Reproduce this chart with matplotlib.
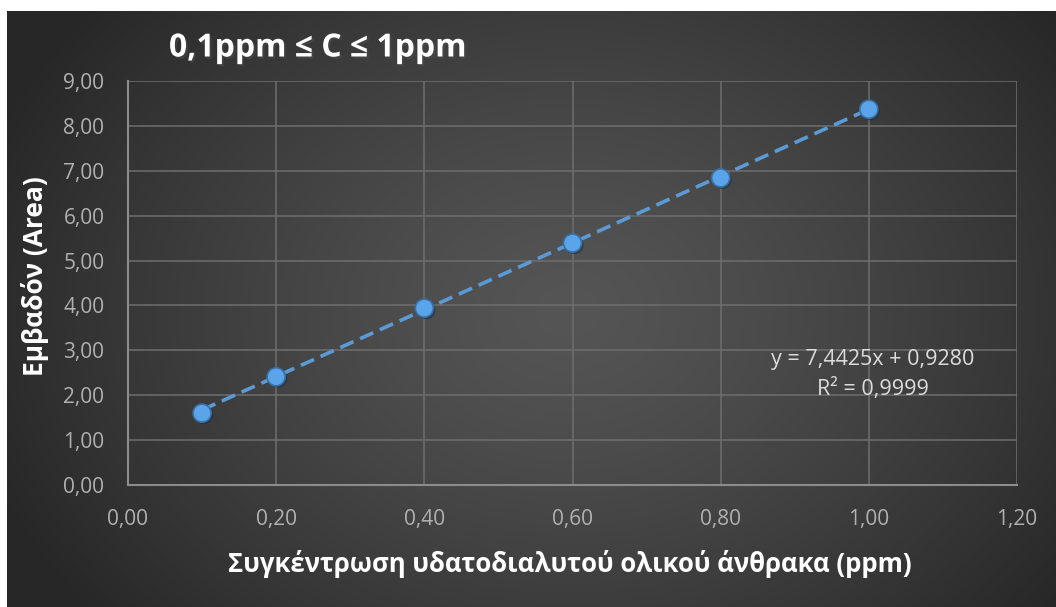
import numpy as np
import matplotlib.pyplot as plt
from matplotlib import patheffects as pe

plt.rcParams['font.family'] = ['Open Sans', 'DejaVu Sans']

# calibration data: concentration (ppm) vs peak area
conc = [0.1, 0.2, 0.4, 0.6, 0.8, 1.0]
area = [1.60, 2.41, 3.94, 5.39, 6.84, 8.37]
slope = 7.4425
intercept = 0.9280
r2 = 0.9999

x_ticks = [0.0, 0.2, 0.4, 0.6, 0.8, 1.0, 1.2]
y_ticks = [0, 1, 2, 3, 4, 5, 6, 7, 8, 9]

fig = plt.figure(figsize=(10.56, 6.07), dpi=100)
fig.patch.set_facecolor('white')

# dark radial background of the chart frame
bg = fig.add_axes([7 / 1056, 0, 1 - 7 / 1056, 1 - 11 / 607])
bg.set_axis_off()
h, w = 596, 1049
yy, xx = np.mgrid[0:h, 0:w]
r = np.sqrt(((xx - 560) / 620.0) ** 2 + ((yy - 300) / 480.0) ** 2)
shade = 0x55 - (0x55 - 0x27) * np.clip(r, 0, 1) ** 1.3
img = np.dstack([shade, shade, shade]) / 255.0
bg.imshow(img, aspect='auto', extent=[0, 1, 0, 1], origin='upper')
bg.set_xlim(0, 1)
bg.set_ylim(0, 1)

ax = fig.add_axes([128 / 1056, 1 - 485 / 607, (1017 - 128) / 1056, (485 - 81) / 607])
ax.set_facecolor('none')

ax.set_xlim(0, 1.2)
ax.set_ylim(0, 9)
ax.set_xticks(x_ticks)
ax.set_yticks(y_ticks)
ax.set_xticklabels([f'{v:.2f}'.replace('.', ',') for v in x_ticks])
ax.set_yticklabels([f'{v:.2f}'.replace('.', ',') for v in y_ticks])
ax.tick_params(length=0, colors='#b0b0b0', labelsize=15)
ax.tick_params(axis='x', pad=17)
ax.tick_params(axis='y', pad=17)

ax.grid(True, color='#6e6e6e', linewidth=1.1)
ax.set_axisbelow(True)
for side in ['top', 'right']:
    ax.spines[side].set_visible(False)
for side in ['left', 'bottom']:
    ax.spines[side].set_color('#8c8c8c')
    ax.spines[side].set_linewidth(1.5)

# linear trendline
tx = np.array([conc[0], conc[-1]])
ax.plot(tx, slope * tx + intercept, color='#5b9bd5', lw=2.6,
        dashes=(4, 2), zorder=3, clip_on=False)

ax.plot(conc, area, 'o', ms=13, color='#5aa5ea', mec='#3a6fa3', mew=1.2,
        zorder=4, clip_on=False,
        path_effects=[pe.SimplePatchShadow(offset=(1.5, -1.5), alpha=0.6), pe.Normal()])

ax.text(1.005, 2.8, f'y = {slope:.4f}x + {intercept:.4f}'.replace('.', ','),
        ha='center', va='center', color='#dcdcdc', fontsize=15.5)
ax.text(1.005, 2.13, f'R² = {r2:.4f}'.replace('.', ','),
        ha='center', va='center', color='#dcdcdc', fontsize=15.5)

shadow = [pe.withSimplePatchShadow(offset=(1.5, -1.5), alpha=0.5)]
fig.text(318 / 1056, 1 - 48 / 607, '0,1ppm ≤ C ≤ 1ppm', ha='center', va='center',
         color='white', fontsize=23, fontweight='bold', path_effects=shadow)
fig.text(570 / 1056, 1 - 564 / 607, 'Συγκέντρωση υδατοδιαλυτού ολικού άνθρακα (ppm)',
         ha='center', va='center', color='white', fontsize=18.5, fontweight='bold')
fig.text(35 / 1056, 1 - 276 / 607, 'Εμβαδόν (Area)', ha='center', va='center',
         rotation=90, color='white', fontsize=19, fontweight='bold')

plt.savefig('out.png', dpi=100)
plt.close()
